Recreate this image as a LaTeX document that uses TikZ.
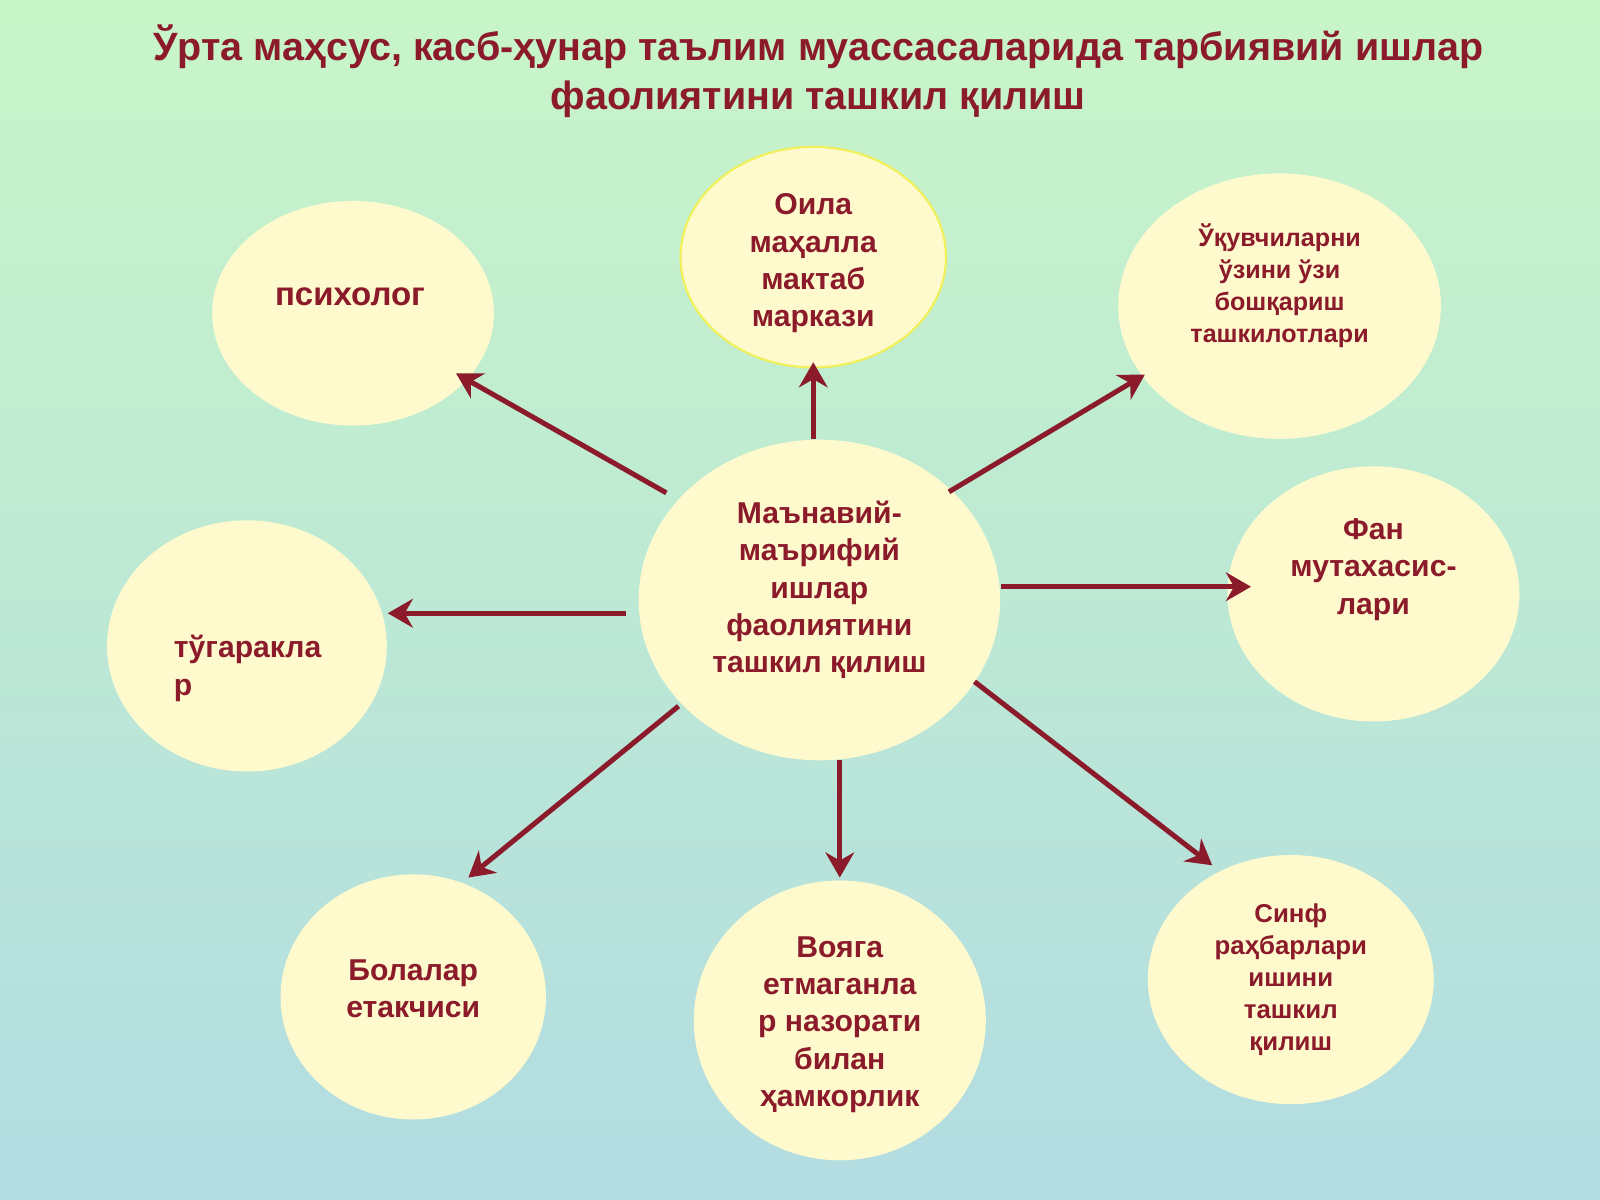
\documentclass[tikz,border=0pt]{standalone}
\usepackage{fontspec}
\setmainfont{Liberation Sans}
\usetikzlibrary{shapes.geometric,arrows.meta}
\definecolor{dred}{HTML}{8B1A2B}
\definecolor{cream}{HTML}{FFFACD}
\begin{document}
\begin{tikzpicture}[x=0.01cm,y=-0.01cm,
  blob/.style={ellipse,fill=cream,draw=none,inner sep=0pt},
  txt/.style={text=dred,font=\bfseries\fontsize{8.4}{10.4}\selectfont,align=center},
  arr/.style={draw=dred,line width=1.4pt,-{Stealth[length=7pt,width=8pt]}}]
\shade[top color={rgb,255:red,200;green,245;blue,200},bottom color={rgb,255:red,178;green,220;blue,226}] (0,0) rectangle (1568,1176);
\useasboundingbox (0,0) rectangle (1568,1176);
\node[text=dred,font=\bfseries\fontsize{11}{13.5}\selectfont,align=center] (title) at (802,70) {Ўрта маҳсус, касб-ҳунар таълим муассасаларида тарбиявий ишлар\\фаолиятини ташкил қилиш};
\node[blob,minimum width=2.76cm,minimum height=2.2cm] (e1) at (346,307) {};
\node[blob,minimum width=2.6cm,minimum height=2.16cm,draw={rgb,255:red,240;green,240;blue,90},line width=0.6pt] (e2) at (797,252) {};
\node[blob,minimum width=3.16cm,minimum height=2.6cm] (e3) at (1254,300) {};
\node[blob,minimum width=2.86cm,minimum height=2.5cm] (e4) at (1346,582) {};
\node[blob,minimum width=3.54cm,minimum height=3.14cm] (c) at (803,588) {};
\node[blob,minimum width=2.74cm,minimum height=2.46cm] (e5) at (242,633) {};
\node[blob,minimum width=2.6cm,minimum height=2.4cm] (e6) at (405,977) {};
\node[blob,minimum width=2.86cm,minimum height=2.74cm] (e7) at (823,1000) {};
\node[blob,minimum width=2.8cm,minimum height=2.44cm] (e8) at (1265,960) {};
\node[txt,font=\bfseries\fontsize{9.2}{10}\selectfont] (t1) at (343,291) {психолог};
\node[txt] (t2) at (797,258) {Оила\\маҳалла\\мактаб\\маркази};
\node[txt,font=\bfseries\fontsize{7}{8.9}\selectfont] (t3) at (1254,280) {Ўқувчиларни\\ўзини ўзи\\бошқариш\\ташкилотлари};
\node[txt] (t4) at (1346,558) {Фан\\мутахасис-\\лари};
\node[txt] (tc) at (803,578) {Маънавий-\\маърифий\\ишлар\\фаолиятини\\ташкил қилиш};
\node[txt,align=left,anchor=west] (t5) at (158,655) {тўгаракла\\р};
\node[txt] (t6) at (405,969) {Болалар\\етакчиси};
\node[txt] (t7) at (823,1004) {Вояга\\етмаганла\\р назорати\\билан\\ҳамкорлик};
\node[txt,font=\bfseries\fontsize{7.2}{8.9}\selectfont] (t8) at (1265,960) {Синф\\раҳбарлари\\ишини\\ташкил\\қилиш};
\coordinate (a1s) at (653,483); \coordinate (a1e) at (447,366);
\coordinate (a2s) at (797,430); \coordinate (a2e) at (797,355);
\coordinate (a3s) at (930,482); \coordinate (a3e) at (1122,367);
\coordinate (a4s) at (981,575); \coordinate (a4e) at (1226,575);
\coordinate (a5s) at (613,601); \coordinate (a5e) at (380,601);
\coordinate (a6s) at (665,692); \coordinate (a6e) at (459,860);
\coordinate (a7s) at (823,745); \coordinate (a7e) at (823,860);
\coordinate (a8s) at (955,668); \coordinate (a8e) at (1188,848);
\foreach \i in {1,...,8} \draw[arr] (a\i s) -- (a\i e);
\end{tikzpicture}
\end{document}
